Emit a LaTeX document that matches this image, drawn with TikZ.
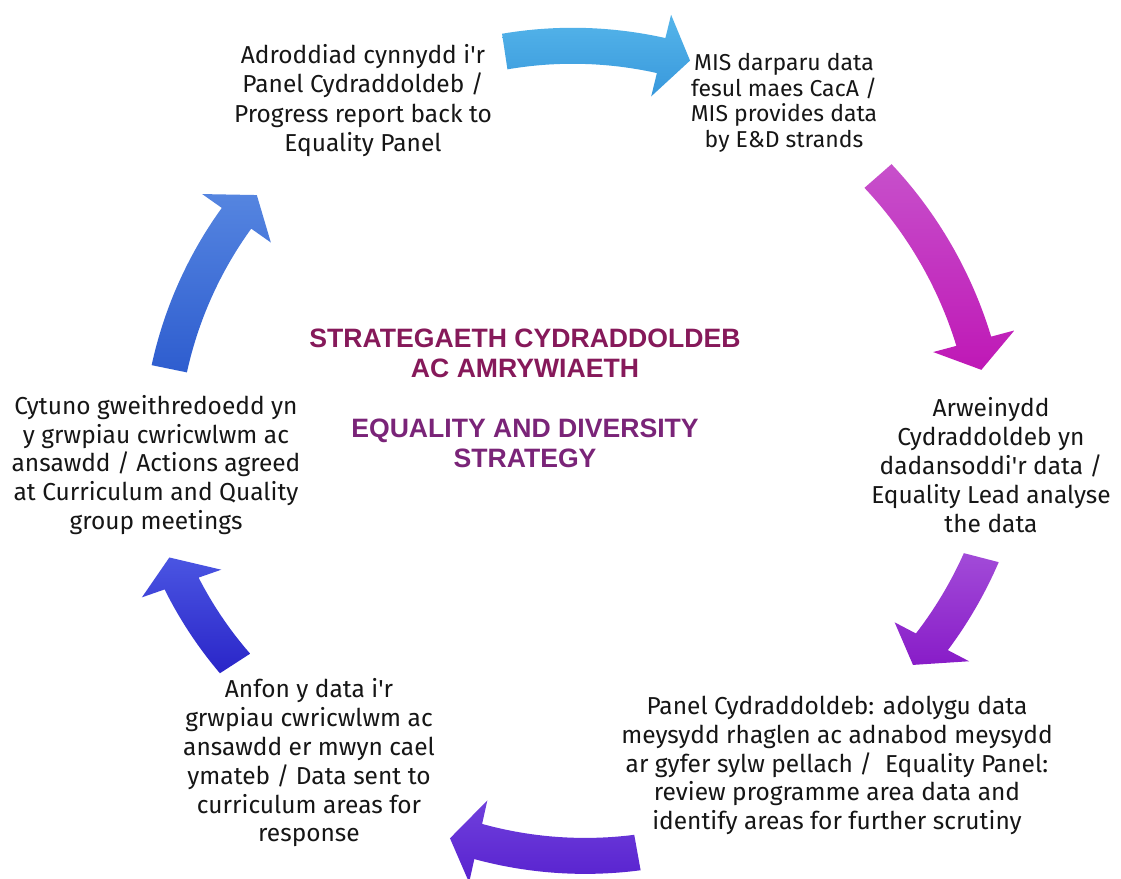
\documentclass[tikz,border=0pt]{standalone}
\usepackage{fontspec}
\setmainfont{Fira Sans}
\newfontfamily\titlefont{Liberation Sans}
\definecolor{txt}{HTML}{161616}
\definecolor{ttlA}{HTML}{86195A}
\definecolor{ttlB}{HTML}{7A2478}
\definecolor{aTa}{HTML}{55B5EA}\definecolor{aBa}{HTML}{3898DC}
\definecolor{aTb}{HTML}{C750CB}\definecolor{aBb}{HTML}{BF18B6}
\definecolor{aTc}{HTML}{A24BD8}\definecolor{aBc}{HTML}{881CC8}
\definecolor{aTd}{HTML}{7040DC}\definecolor{aBd}{HTML}{5822CF}
\definecolor{aTe}{HTML}{4A55E2}\definecolor{aBe}{HTML}{2A25C8}
\definecolor{aTf}{HTML}{5585E0}\definecolor{aBf}{HTML}{2E5DCF}
% #1 tail angle, #2 tail radius, #3 head-base angle, #4 head-base radius,
% #5 tip angle, #6 tip radius, #7 top colour, #8 bottom colour
\newcommand\cycarrow[8]{%
\shade[top color=#7,bottom color=#8]
 plot[domain=#1:#3,samples=40,variable=\t]
  ({565+(#2+((#4)-(#2))*(\t-(#1))/((#3)-(#1))+18)*cos(\t)},{-450+(#2+((#4)-(#2))*(\t-(#1))/((#3)-(#1))+18)*sin(\t)})
 -- ({565+(#4+42)*cos(#3)},{-450+(#4+42)*sin(#3)})
 -- ({565+(#6)*cos(#5)},{-450+(#6)*sin(#5)})
 -- ({565+(#4-42)*cos(#3)},{-450+(#4-42)*sin(#3)})
 -- plot[domain=#3:#1,samples=40,variable=\t]
  ({565+(#2+((#4)-(#2))*(\t-(#1))/((#3)-(#1))-18)*cos(\t)},{-450+(#2+((#4)-(#2))*(\t-(#1))/((#3)-(#1))-18)*sin(\t)})
 -- cycle;}
\begin{document}
\begin{tikzpicture}[x=1pt,y=1pt,
  lbl/.style={align=center,text=txt,inner sep=0pt,font=\fontsize{24.5}{28.8}\selectfont},
  lblwide/.style={lbl,font=\fontsize{24.5}{29.3}\selectfont},
  lblsmall/.style={lbl,font=\fontsize{23}{25.5}\selectfont},
  ttl/.style={align=center,inner sep=0pt,font=\titlefont\bfseries\fontsize{26.6}{30}\selectfont}]
\fill[white] (0,0) rectangle (1121,-878);
\useasboundingbox (0,0) rectangle (1121,-878);
% cycle arrows
\cycarrow{98.6}{403}{76.3}{406}{72.2}{409}{aTa}{aBa}
\cycarrow{41.2}{416}{14.9}{423}{10.9}{424}{aTb}{aBb}
\cycarrow{-14.5}{430}{-27.6}{414}{-31.7}{409}{aTc}{aBc}
\cycarrow{-79.8}{409}{-102.5}{401}{-106.5}{405}{aTd}{aBd}
\cycarrow{-147.1}{393}{-160.8}{406}{-164.8}{410}{aTe}{aBe}
\cycarrow{168.4}{404}{144.8}{402}{140.4}{400}{aTf}{aBf}
% texts
\node[lblwide] (tl) at (363,-100.5) {Adroddiad cynnydd i\textquotesingle r\\Panel Cydraddoldeb /\\Progress report back to\\Equality Panel};
\node[lblsmall] (tr) at (784,-103) {MIS darparu data\\fesul maes CacA /\\MIS provides data\\by E\&D strands};
\node[lbl] (rm) at (991,-465) {Arweinydd\\Cydraddoldeb yn\\dadansoddi\textquotesingle r data /\\Equality Lead analyse\\the data};
\node[lbl] (br) at (837,-765.5) {Panel Cydraddoldeb: adolygu data\\meysydd rhaglen ac adnabod meysydd\\ar gyfer sylw pellach / \ Equality Panel:\\review programme area data and\\identify areas for further scrutiny};
\node[lbl] (bl) at (309,-763) {Anfon y data i\textquotesingle r\\grwpiau cwricwlwm ac\\ansawdd er mwyn cael\\ymateb / Data sent to\\curriculum areas for\\response};
\node[lbl] (lm) at (156,-465) {Cytuno gweithredoedd yn\\y grwpiau cwricwlwm ac\\ansawdd / Actions agreed\\at Curriculum and Quality\\group meetings};
\node[ttl,text=ttlA] (t1) at (525,-353) {STRATEGAETH CYDRADDOLDEB\\AC AMRYWIAETH};
\node[ttl,text=ttlB] (t2) at (525,-443.5) {EQUALITY AND DIVERSITY\\STRATEGY};
\end{tikzpicture}
\end{document}
